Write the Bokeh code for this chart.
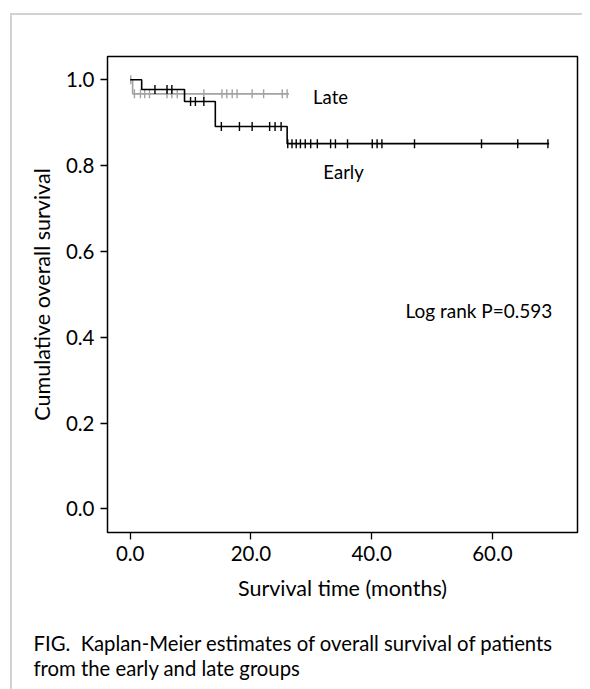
import math
from bokeh.plotting import figure
from bokeh.models import FixedTicker, NumeralTickFormatter, Label, Title, Range1d
from bokeh.embed import file_html
from bokeh.resources import INLINE

# ---- data ----
early_event_times = [1.9, 9.0, 14.1, 26.0]
early_event_surv = [0.977, 0.949, 0.891, 0.851]
early_censor_times = [4.1, 6.1, 6.9, 10.0, 10.8, 12.2, 15.1, 18.1, 20.2, 23.1, 24.0, 25.0,
                      26.1, 26.8, 27.5, 28.2, 29.0, 29.9, 31.0, 33.2, 34.0, 36.0, 40.1,
                      40.9, 41.7, 47.1, 58.2, 64.2, 69.2]
early_end = 69.4

late_event_times = [0.4]
late_event_surv = [0.967]
late_censor_times = [0.1, 0.7, 1.7, 2.4, 3.2, 6.1, 6.9, 7.8, 12.2, 15.2, 16.0, 16.9, 17.7,
                     20.2, 22.1, 25.2, 26.0]
late_end = 26.3

x_ticks = [0, 20, 40, 60]
y_ticks = [0.0, 0.2, 0.4, 0.6, 0.8, 1.0]

caption_lines = ["FIG.\u00a0 Kaplan-Meier estimates of overall survival of patients",
                 "from the early and late groups"]

FONT = "Lato"


def surv_at(t, ev_t, ev_s):
    s = 1.0
    for et, es in zip(ev_t, ev_s):
        if et <= t:
            s = es
    return s


GRAY_BORDER = "#d2d2d2"
bg = (f"linear-gradient({GRAY_BORDER},{GRAY_BORDER}) 10px 13px / 2px 100% no-repeat, "
      f"linear-gradient({GRAY_BORDER},{GRAY_BORDER}) 10px 13px / 100% 2px no-repeat, white")

p = figure(width=582, height=689, output_backend="svg", toolbar_location=None,
           x_range=Range1d(-3.76, 74.1), y_range=Range1d(-0.055, 1.054),
           min_border_left=107, min_border_right=5, min_border_top=56, min_border_bottom=157,
           styles={"background": bg})

p.xgrid.visible = False
p.ygrid.visible = False
p.outline_line_color = "black"
p.outline_line_width = 1.5
p.outline_line_alpha = 1.0
p.background_fill_color = "white"
p.border_fill_alpha = 0.0

for ax in (p.xaxis[0], p.yaxis[0]):
    ax.axis_line_color = None
    ax.major_tick_line_color = "black"
    ax.major_tick_line_width = 1.3
    ax.major_tick_in = 0
    ax.major_tick_out = 7
    ax.minor_tick_line_color = None
    ax.major_label_text_font = FONT
    ax.major_label_text_font_size = "20.5px"
    ax.major_label_text_color = "black"
    ax.axis_label_text_font = FONT
    ax.axis_label_text_font_size = "21.5px"
    ax.axis_label_text_font_style = "normal"
    ax.axis_label_text_color = "black"
    ax.formatter = NumeralTickFormatter(format="0.0")

p.xaxis.ticker = FixedTicker(ticks=x_ticks)
p.yaxis.ticker = FixedTicker(ticks=y_ticks)
p.xaxis.major_label_standoff = 6
p.yaxis.major_label_standoff = 6
p.xaxis.axis_label = "Survival time (months)"
p.yaxis.axis_label = "Cumulative overall survival"
p.xaxis.axis_label_standoff = 11
p.yaxis.axis_label_standoff = 8

# Late group (gray)
late_x = [0.0] + late_event_times + [late_end]
late_y = [1.0] + late_event_surv + [late_event_surv[-1]]
p.step(late_x, late_y, mode="after", line_color="#a3a3a3", line_width=1.6)
late_cy = [surv_at(t, late_event_times, late_event_surv) for t in late_censor_times]
p.scatter(late_censor_times, late_cy, marker="dash", angle=math.pi / 2, size=9,
          line_color="#a3a3a3", line_width=1.4)

# Early group (black)
early_x = [0.0] + early_event_times + [early_end]
early_y = [1.0] + early_event_surv + [early_event_surv[-1]]
p.step(early_x, early_y, mode="after", line_color="black", line_width=1.6)
early_cy = [surv_at(t, early_event_times, early_event_surv) for t in early_censor_times]
p.scatter(early_censor_times, early_cy, marker="dash", angle=math.pi / 2, size=9,
          line_color="black", line_width=1.4)

# annotations inside the plot
for txt, x, y, fs in [("Late", 30.3, 0.959, "18.5px"), ("Early", 32.0, 0.784, "18.5px"),
                      ("Log rank P=0.593", 45.6, 0.463, "19px")]:
    p.add_layout(Label(x=x, y=y, text=txt, text_font=FONT, text_font_size=fs,
                       text_baseline="middle", text_color="black"))

# caption below the chart (a leading blank line leaves the gap below the axis title)
p.add_layout(Title(text="\n".join([""] + caption_lines), align="left", offset=-74, standoff=0,
                   vertical_align="bottom",
                   text_font=FONT, text_font_size="20.3px", text_font_style="normal",
                   text_line_height=1.06, text_color="black"), "below")

open("out.html", "w").write(file_html(p, INLINE))
